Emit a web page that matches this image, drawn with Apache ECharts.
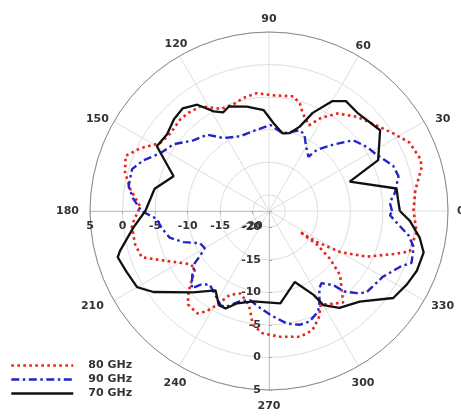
<!DOCTYPE html>
<html>
<head>
<meta charset="utf-8">
<script src="https://cdn.jsdelivr.net/npm/echarts@6/dist/echarts.min.js"></script>
<style>
  html, body { margin: 0; padding: 0; background: #fff; }
  #chart { width: 461px; height: 418px; }
</style>
</head>
<body>
<div id="chart"></div>
<script>
// Radiation pattern (dB) versus angle (degrees) for three frequencies
var ang80 = [0, 8, 16, 19, 26, 32, 38, 47, 55, 61, 65, 71, 74, 78, 88, 96, 103, 108, 115, 123,
  129, 134, 142, 148, 154, 159, 165, 171, 178, 186, 194, 200, 206, 214, 218, 225, 229, 235, 238, 241,
  245, 251, 258, 262, 267, 275, 284, 290, 295, 299, 302, 309, 318, 322, 325, 326, 327, 330, 335, 341,
  344, 352, 360];
var gain80 = [-0.3, 0.2, 1.9, 2.1, 1.5, 0.0, -1.3, -2.7, -4.2, -6.2, -8.0, -6.6, -5.3, -4.5, -4.7, -4.3, -4.7, -5.2, -5.2, -3.3,
  -3.0, -2.9, -3.2, -2.8, -0.5, 1.1, 0.4, -0.9, -2.7, -1.3, -1.3, -1.7, -5.0, -7.9, -8.1, -5.0, -3.5, -3.3, -4.3, -6.0,
  -8.3, -9.1, -7.7, -4.8, -3.7, -3.1, -2.6, -3.0, -4.4, -6.1, -5.6, -4.4, -7.8, -10.7, -13.5, -16.8, -13.8, -9.9, -5.9, -2.2,
  0.0, 0.4, -0.3];

var ang90 = [0, 4, 8, 15, 20, 28, 33, 40, 46, 52, 54, 60, 65, 69, 80, 89, 99, 111, 122, 129,
  137, 145, 152, 158, 163, 170, 175, 180, 184, 189, 195, 200, 205, 210, 213, 215, 220, 225, 227, 231,
  243, 246, 252, 258, 265, 271, 279, 285, 290, 296, 299, 303, 306, 311, 313, 317, 320, 330, 337, 340,
  346, 350, 354, 358, 360];
var gain90 = [-3.6, -3.9, -3.0, -1.9, -2.2, -3.9, -4.5, -5.6, -8.3, -10.6, -12.2, -11.1, -9.6, -9.2, -10.4, -9.3, -9.9, -10.2, -9.3, -7.4,
  -6.6, -4.6, -3.6, -1.7, -0.5, -0.6, -1.6, -2.9, -5.2, -5.8, -6.7, -8.5, -10.8, -11.1, -9.9, -8.6, -7.1, -5.7, -7.0, -8.0,
  -6.2, -6.4, -7.9, -8.5, -7.5, -6.5, -5.0, -4.4, -4.4, -5.3, -6.5, -8.3, -8.8, -7.4, -5.6, -4.0, -3.0, -2.3, -0.6, 0.8,
  0.4, -0.7, -2.5, -3.9, -3.6];

var ang70 = [0, 5, 10, 20, 25, 36, 48, 55, 60, 66, 70, 75, 80, 87, 93, 102, 111, 115, 119, 124,
  130, 136, 143, 150, 160, 169, 180, 187, 195, 197, 203, 210, 215, 227, 236, 242, 246, 251, 260, 277,
  290, 298, 300, 306, 315, 325, 332, 338, 345, 350, 356, 360];
var gain70 = [-2.4, -2.6, -2.6, -9.3, -4.0, -1.4, -2.2, -1.9, -3.0, -6.0, -8.7, -10.1, -10.4, -9.0, -7.0, -6.1, -5.3, -5.8, -5.0, -2.8,
  -1.9, -2.2, -2.9, -2.6, -6.9, -4.6, -3.5, -1.5, 1.2, 1.8, 1.3, 0.9, -0.8, -5.4, -7.8, -6.1, -6.1, -7.5, -8.4, -8.2,
  -10.9, -7.9, -5.8, -4.1, -2.8, 0.8, 1.5, 2.0, 2.1, 1.0, -0.8, -2.4];

var seriesNames = ['80 GHz', '90 GHz', '70 GHz'];
var seriesColors = ['#e3261e', '#2323c8', '#111111'];
var radiusMin = -22.5;
var radiusMax = 5;

function pairs(gain, ang) {
  return gain.map(function (g, i) { return [g, ang[i]]; });
}

var labelFont = { color: '#333', fontWeight: 'bold', fontSize: 11, fontFamily: 'DejaVu Sans' };
var center = [269, 211];
var R = 179;

function radiusLabel(v) {
  return v < -20 ? '' : String(v);
}
// downward scale: labels sit left of the vertical line, right-aligned in a fixed box
function radiusLabelLeft(v) {
  return v < -20 ? '' : '{r|' + v + '}';
}

// Angle labels: anchored slightly inside the rim, then pushed out per
// direction so each number ends up centred on its spoke outside the circle.
// padding order: [top, right, bottom, left]
var anglePads = {
  0:   [0, 0, 0, 25],
  30:  [0, 0, 5, 25],
  60:  [0, 0, 18, 5],
  90:  [0, 0, 23, 0],
  120: [0, 0, 20, 0],
  150: [0, 19, 5, 0],
  180: [0, 27, 0, 0],
  210: [8, 24, 0, 0],
  240: [25, 1, 0, 0],
  270: [27, 0, 0, 0],
  300: [25, 0, 0, 1],
  330: [8, 0, 0, 21]
};
var richAngle = {};
Object.keys(anglePads).forEach(function (k) {
  richAngle['a' + k] = Object.assign({ padding: anglePads[k] }, labelFont);
});
function angleLabel(v) {
  return '{a' + v + '|' + v + '}';
}

var chart = echarts.init(document.getElementById('chart'), null, { renderer: 'canvas' });
chart.setOption({
  backgroundColor: '#ffffff',
  animation: false,
  polar: [
    { center: center, radius: R },
    { center: center, radius: R },
    { center: center, radius: R }
  ],
  angleAxis: [
    {
      polarIndex: 0, type: 'value', min: 0, max: 360, interval: 30,
      startAngle: 0, clockwise: false,
      axisLine: { lineStyle: { color: '#8a8a8a', width: 1 } },
      axisTick: { show: false },
      axisLabel: Object.assign({ margin: -16, formatter: angleLabel, rich: richAngle }, labelFont),
      splitLine: { lineStyle: { color: '#dedede', width: 1 } }
    },
    { polarIndex: 1, type: 'value', min: 0, max: 360, startAngle: 180, clockwise: false, show: false },
    { polarIndex: 2, type: 'value', min: 0, max: 360, startAngle: 270, clockwise: false, show: false }
  ],
  radiusAxis: [
    {
      polarIndex: 0, type: 'value', min: radiusMin, max: radiusMax, splitNumber: 5,
      axisLine: { show: false }, axisTick: { show: false }, axisLabel: { show: false },
      splitLine: { lineStyle: { color: '#dedede', width: 1 } }
    },
    {
      polarIndex: 1, type: 'value', min: radiusMin, max: radiusMax, splitNumber: 5,
      axisLine: { lineStyle: { color: '#c4c4c4' } },
      axisTick: { show: true, length: 3, lineStyle: { color: '#aaa' } },
      axisLabel: Object.assign({ margin: 10, formatter: radiusLabel }, labelFont),
      splitLine: { show: false }
    },
    {
      polarIndex: 2, type: 'value', min: radiusMin, max: radiusMax, splitNumber: 5,
      axisLine: { lineStyle: { color: '#c4c4c4' } },
      axisTick: { show: true, length: 3, lineStyle: { color: '#aaa' } },
      axisLabel: Object.assign({
        margin: -32, formatter: radiusLabelLeft,
        rich: { r: Object.assign({ width: 24, align: 'right' }, labelFont) }
      }, labelFont),
      splitLine: { show: false }
    }
  ],
  legend: {
    orient: 'vertical', left: 5, top: 355,
    itemWidth: 62, itemHeight: 10, itemGap: 3,
    data: seriesNames,
    itemStyle: { opacity: 0 },
    textStyle: { color: '#333', fontWeight: 'bold', fontSize: 11, fontFamily: 'DejaVu Sans', padding: [0, 0, 0, 10] },
    lineStyle: { width: 'inherit', type: 'inherit' }
  },
  series: [
    {
      name: seriesNames[0], type: 'line', coordinateSystem: 'polar', polarIndex: 0,
      symbol: 'none', data: pairs(gain80, ang80),
      itemStyle: { color: seriesColors[0] },
      lineStyle: { color: seriesColors[0], width: 2.6, type: [2.6, 3.4] }
    },
    {
      name: seriesNames[1], type: 'line', coordinateSystem: 'polar', polarIndex: 0,
      symbol: 'none', data: pairs(gain90, ang90),
      itemStyle: { color: seriesColors[1] },
      lineStyle: { color: seriesColors[1], width: 2.4, type: [8, 3.5, 2.5, 3.5] }
    },
    {
      name: seriesNames[2], type: 'line', coordinateSystem: 'polar', polarIndex: 0,
      symbol: 'none', data: pairs(gain70, ang70),
      itemStyle: { color: seriesColors[2] },
      lineStyle: { color: seriesColors[2], width: 2.3 }
    }
  ]
});
</script>
</body>
</html>
